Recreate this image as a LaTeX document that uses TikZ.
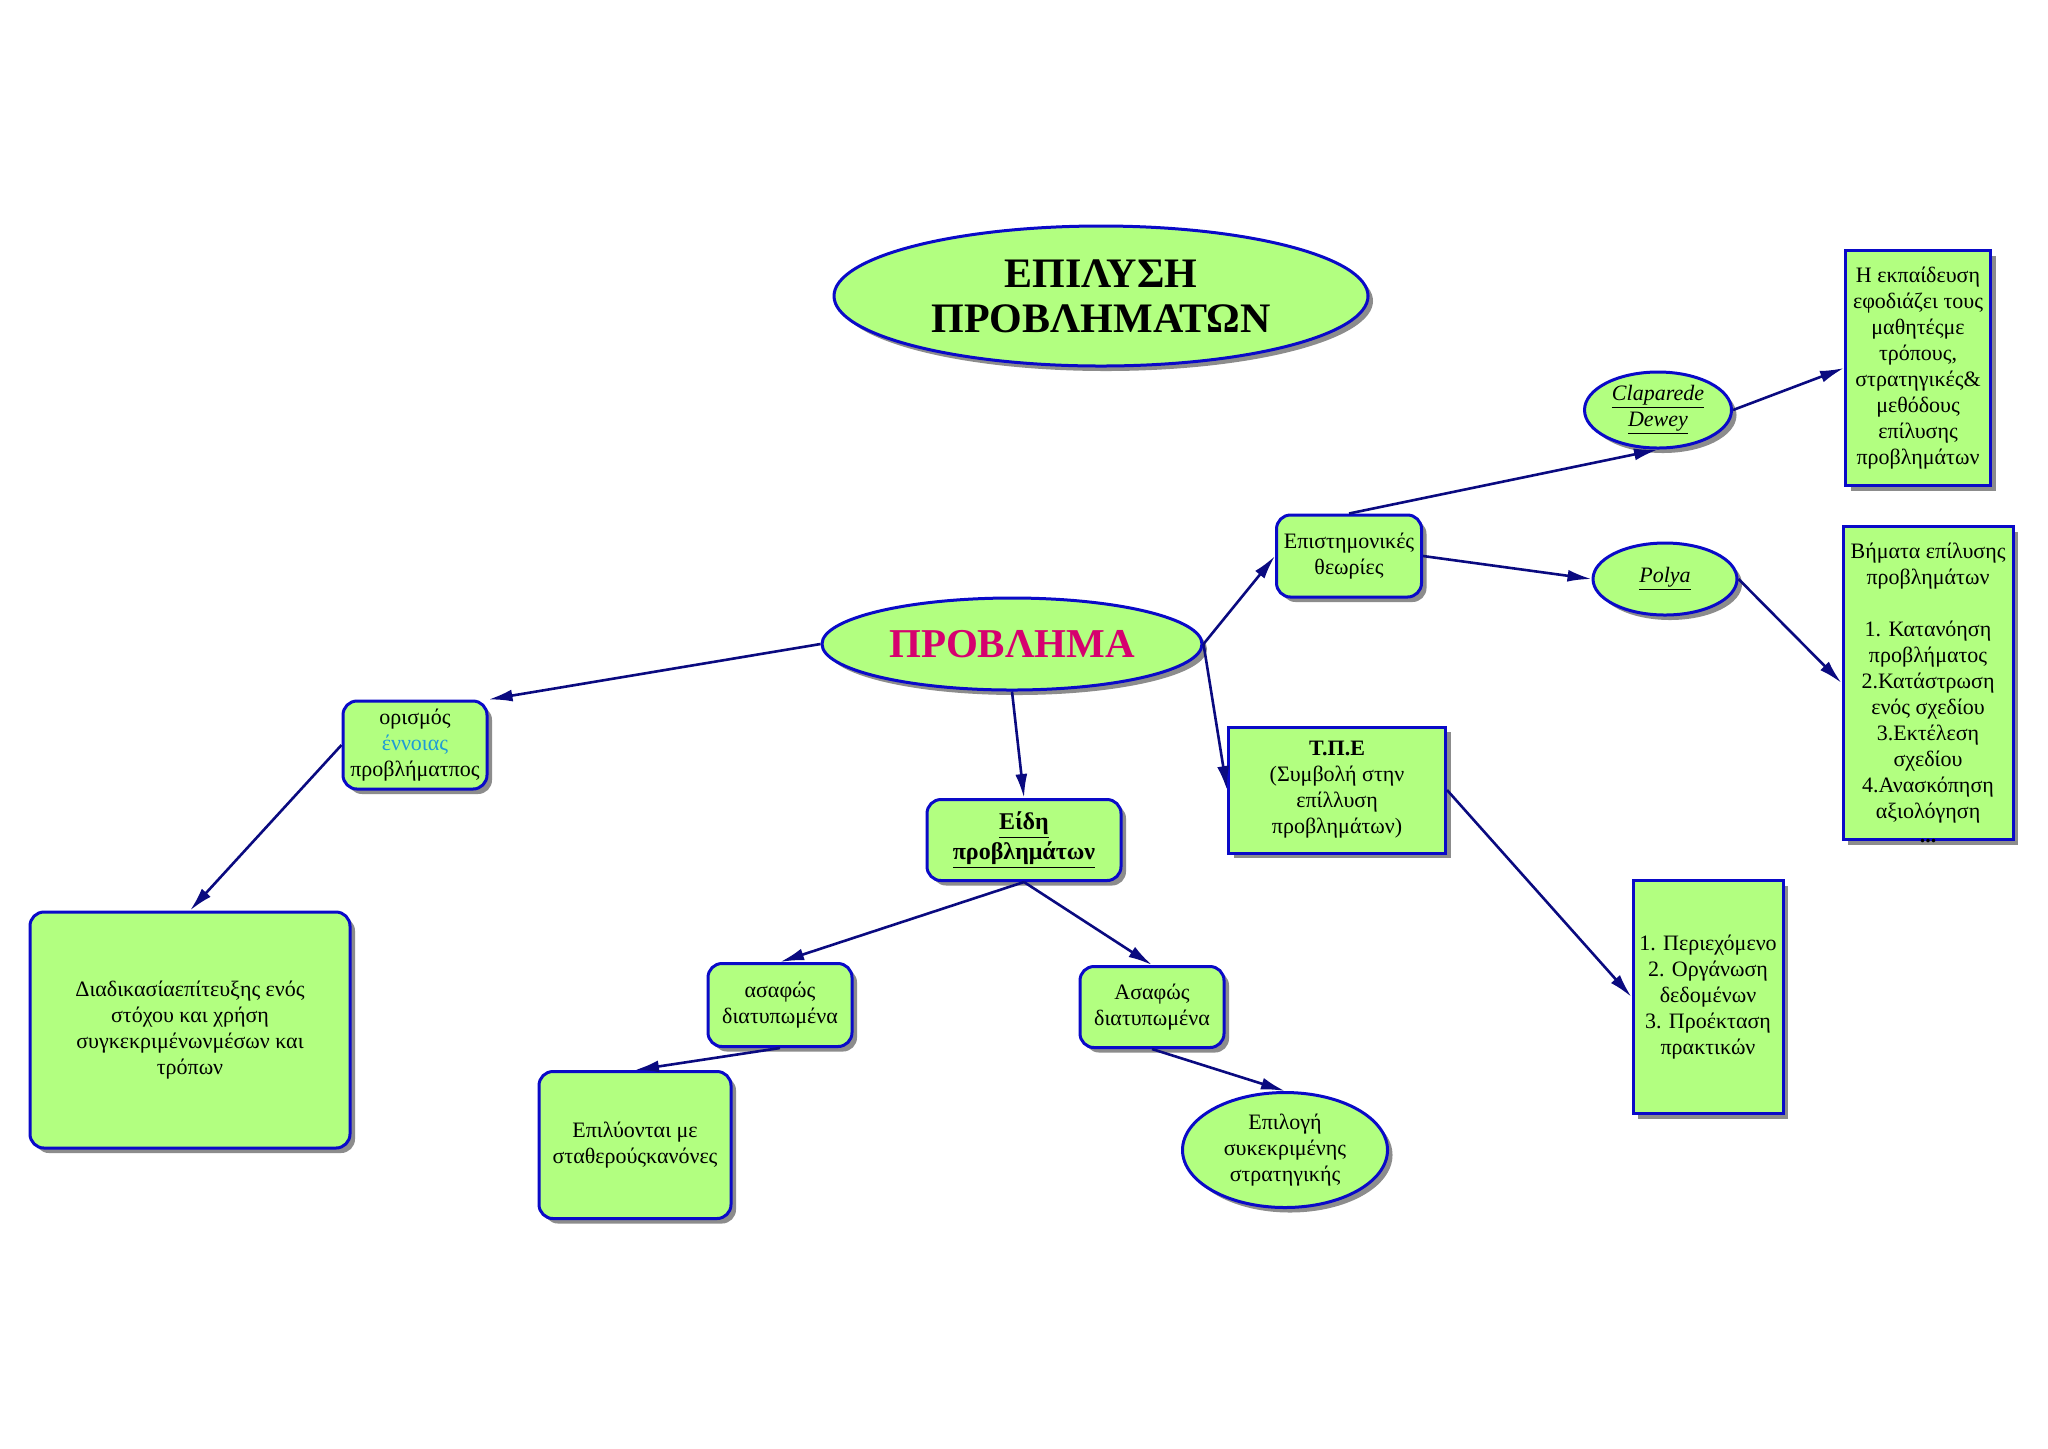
\documentclass[tikz,border=0pt]{standalone}
\usepackage{fontspec}
\setmainfont{Liberation Serif}
\usetikzlibrary{arrows.meta,shapes.geometric,shadows}
\definecolor{mapgreen}{HTML}{B2FF80}
\definecolor{mapblue}{HTML}{0A0AC8}
\definecolor{mapnavy}{HTML}{0A0A80}
\definecolor{mapshade}{HTML}{8C8C8C}
\definecolor{mapred}{HTML}{D6006F}
\definecolor{mapcyan}{HTML}{1E9BD7}

\begin{document}
\begin{tikzpicture}[
        x=0.5pt, y=-0.5pt,
        base/.style={fill=mapgreen, draw=mapblue, line width=1.5pt, align=center,
          font=\fontsize{11}{13}\selectfont, inner sep=1pt,
          drop shadow={shadow xshift=2.5pt, shadow yshift=-2.5pt, fill=mapshade, opacity=1}},
        rbox/.style={base, rectangle, rounded corners=7pt},
        sbox/.style={base, rectangle},
        oval/.style={base, ellipse, inner sep=0pt},
        link/.style={draw=mapnavy, line width=1.3pt, -{Latex[length=12pt, width=6pt]}},
      ]
      \fill[white] (0,0) rectangle (2048,1448);

      % Title and centre
      \node[oval, minimum width=267pt, minimum height=70pt,
            font=\fontsize{21}{22.5}\selectfont\bfseries] (title) at (1101,296)
        {ΕΠΙΛΥΣΗ\\ΠΡΟΒΛΗΜΑΤΩΝ};
      \node[oval, minimum width=190pt, minimum height=46pt,
            font=\fontsize{20.5}{24}\selectfont\bfseries, text=mapred] (prob) at (1012,644)
        {ΠΡΟΒΛΗΜΑ};

      % Right branch: theories
      \node[rbox, minimum width=72.5pt, minimum height=41pt] (theo) at (1349,556)
        {Επιστημονικές\\θεωρίες};
      \node[oval, minimum width=73.5pt, minimum height=38pt] (clap) at (1658,410)
        {\underline{\textit{Claparede}}\\\underline{\textit{Dewey}}};
      \node[oval, minimum width=72pt, minimum height=36pt] (polya) at (1665,579)
        {\underline{\textit{Polya}}};
      \node[sbox, minimum width=72.5pt, minimum height=117.5pt] (educ) at (1918,368)
        {Η εκπαίδευση\\εφοδιάζει τους\\μαθητέςμε\\τρόπους,\\στρατηγικές\&\\μεθόδους\\επίλυσης\\προβλημάτων};
      \node[sbox, minimum width=85pt, minimum height=156.5pt,
            label={[anchor=center, inner sep=0pt, font=\fontsize{11}{13}\selectfont\bfseries]south:...}]
        (steps) at (1928,683)
        {Βήματα επίλυσης\\προβλημάτων\\[13pt]1. Κατανόηση\\προβλήματος\\2.Κατάστρωση\\ενός σχεδίου\\3.Εκτέλεση\\σχεδίου\\4.Ανασκόπηση\\αξιολόγηση};

      % Right branch: T.P.E
      \node[sbox, minimum width=108.5pt, minimum height=63pt] (tpe) at (1337,790)
        {\textbf{Τ.Π.Ε}\\(Συμβολή στην\\επίλλυση\\προβλημάτων)};
      \node[sbox, minimum width=75pt, minimum height=116.5pt] (cont) at (1708,997)
        {1. Περιεχόμενο\\2. Οργάνωση\\δεδομένων\\3. Προέκταση\\πρακτικών};

      % Left branch: definition
      \node[rbox, minimum width=72pt, minimum height=44pt] (defn) at (415,745)
        {ορισμός\\\textcolor{mapcyan}{έννοιας}\\προβλήματπος};
      \node[rbox, minimum width=160pt, minimum height=118pt] (proc) at (190,1030)
        {Διαδικασίαεπίτευξης ενός\\στόχου και χρήση\\συγκεκριμένωνμέσων και\\τρόπων};

      % Middle branch: kinds of problems
      \node[rbox, minimum width=97pt, minimum height=40.5pt,
            font=\fontsize{12}{15}\selectfont\bfseries] (kinds) at (1024,840)
        {\underline{Είδη}\\\underline{προβλημάτων}};
      \node[rbox, minimum width=72pt, minimum height=41.5pt] (clear) at (780,1005)
        {ασαφώς\\διατυπωμένα};
      \node[rbox, minimum width=72pt, minimum height=40.5pt] (vague) at (1152,1007)
        {Ασαφώς\\διατυπωμένα};
      \node[rbox, minimum width=96pt, minimum height=73.5pt] (fixed) at (635,1145)
        {Επιλύονται με\\σταθερούςκανόνες};
      \node[oval, minimum width=102.5pt, minimum height=57.5pt] (choice) at (1285,1150)
        {Επιλογή\\συκεκριμένης\\στρατηγικής};

      % Connectors
      \draw[link] (prob.west) -- (defn.north east);
      \draw[link] (defn.west) -- (proc.north);
      \draw[link] (prob.south) -- (kinds.north);
      \draw[link] (prob.east) -- (theo.west);
      \draw[link] (prob.east) -- (tpe.west);
      \draw[link] (theo.north) -- (clap.south);
      \draw[link] (clap.east) -- (educ.west);
      \draw[link] (theo.east) -- (polya.west);
      \draw[link] (polya.east) -- (steps.west);
      \draw[link] (tpe.east) -- (cont.west);
      \draw[link] (kinds.south) -- (clear.north);
      \draw[link] (kinds.south) -- (vague.north);
      \draw[link] (clear.south) -- (fixed.north);
      \draw[link] (vague.south) -- (choice.north);
    \end{tikzpicture}
\end{document}
